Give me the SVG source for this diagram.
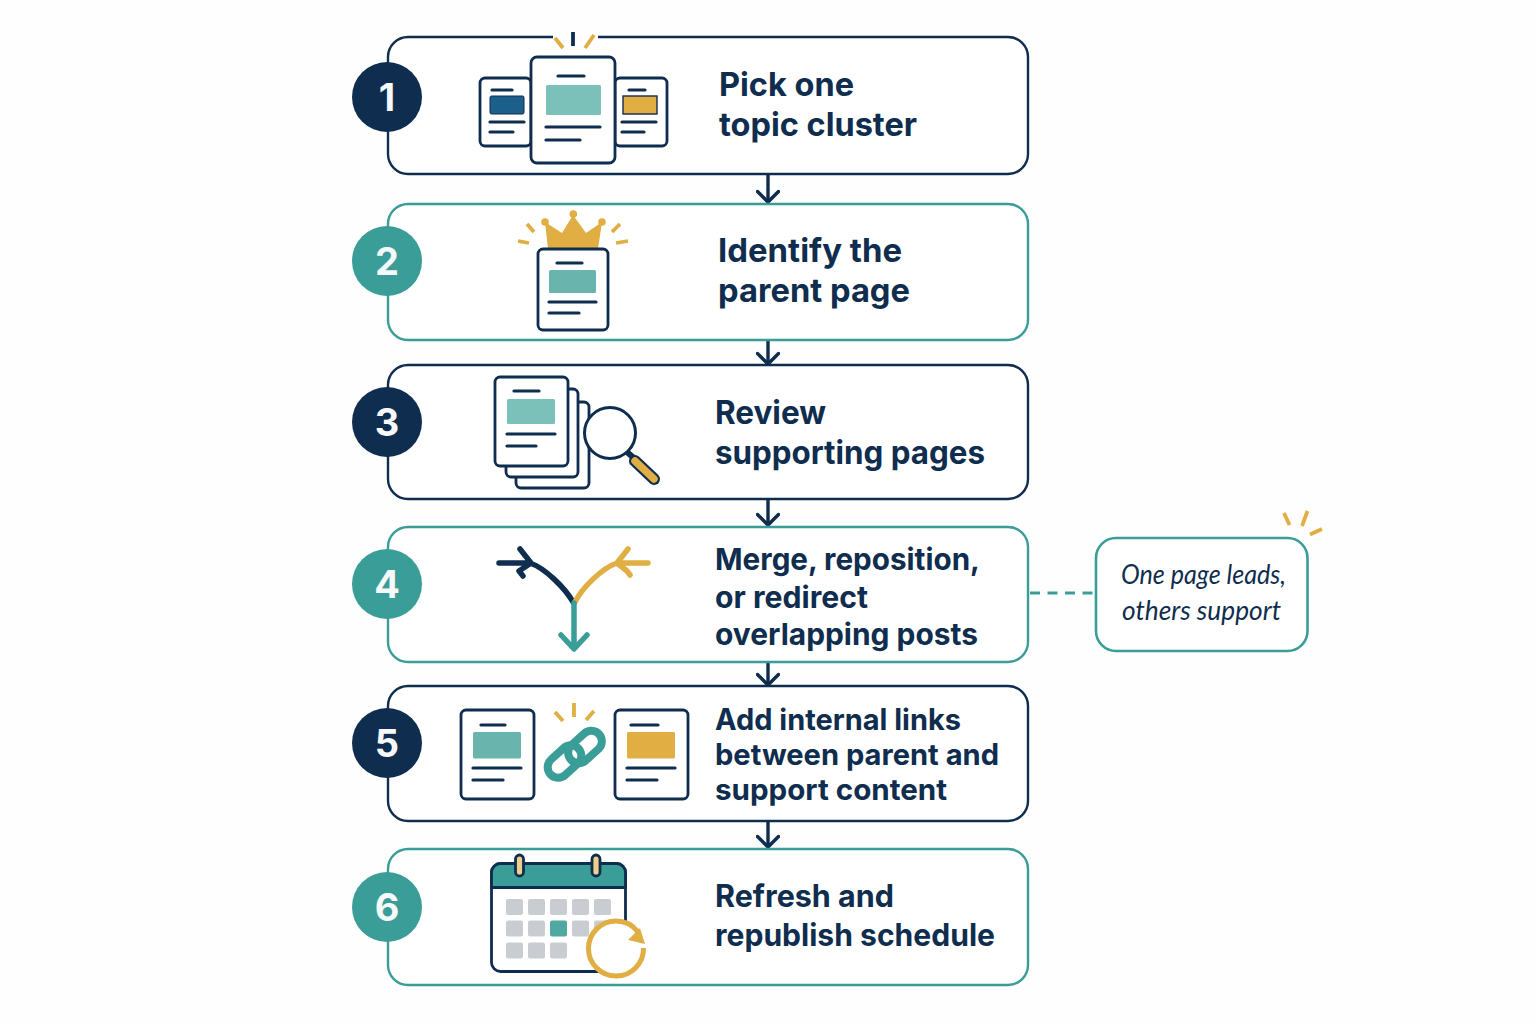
<svg xmlns="http://www.w3.org/2000/svg" width="1536" height="1024" viewBox="0 0 1536 1024">
<style>
.box{fill:#fff;stroke-width:2.4}
.nv{stroke:#0f2d4e}.tl{stroke:#3a9d98}
.num{fill:#f6f8f9;font:700 38px Inter,"Liberation Sans",sans-serif;text-anchor:middle}
.c-n{fill:#0f2d4e}.c-t{fill:#3a9d98}
.lab{fill:#0f2d4e;font:650 33px Inter,"Liberation Sans",sans-serif}
.s3{font-size:32px}.s4{font-size:30.5px}.s5{font-size:29.5px}.s6{font-size:31px}
.note{fill:#0f2d4e;font:italic 400 27px Lato,"Open Sans",sans-serif}
.card{fill:#fff;stroke:#0f2d4e;stroke-width:2.8}
.ln{stroke:#0f2d4e;stroke-width:3.2;stroke-linecap:round;fill:none}
.spark{stroke:#e0ae42;stroke-width:3.8;stroke-linecap:butt;fill:none}
.gd{fill:#e0ae42}.tf{fill:#7cc0ba}.tf2{fill:#69b5ae}.sq{fill:#c9cdd1}
</style>
<defs>
<marker id="ah" markerUnits="userSpaceOnUse" markerWidth="28" markerHeight="24" refX="13" refY="12" orient="auto">
<path d="M2.500 1.500 L13 12 L2.500 22.500" fill="none" stroke="#0f2d4e" stroke-width="3.500" stroke-linecap="round" stroke-linejoin="round"/>
</marker>
</defs>
<rect width="1536" height="1024" fill="#fefefe"/>
<g id="connectors" fill="none">
<g stroke="#0f2d4e" stroke-width="3.400">
<line x1="768" y1="175" x2="768" y2="202" marker-end="url(#ah)"/>
<line x1="768" y1="341" x2="768" y2="364" marker-end="url(#ah)"/>
<line x1="768" y1="500" x2="768" y2="525" marker-end="url(#ah)"/>
<line x1="768" y1="663" x2="768" y2="685" marker-end="url(#ah)"/>
<line x1="768" y1="822" x2="768" y2="847" marker-end="url(#ah)"/>
</g>
<line x1="1030" y1="593" x2="1096" y2="593" stroke="#3a9d98" stroke-width="3" stroke-dasharray="10 7.500"/>
</g>
<g id="step1">
<rect class="box nv" x="388" y="37" width="640" height="137" rx="20"/>
<rect x="553" y="33" width="45" height="8" fill="#fefefe"/>
<circle class="c-n" cx="387" cy="97" r="35"/><text class="num" x="387" y="111">1</text>
<rect class="card" x="480" y="78" width="51" height="68" rx="5"/>
<rect class="card" x="615" y="78" width="52" height="68" rx="5"/>
<rect class="card" x="531" y="57" width="84" height="106" rx="6"/>
<path class="ln" d="M558 76H584M546 127H600M546 140H580M492 90H512M490 122H524M490 132H513M629 90H645M622 122H656M622 132H644"/>
<rect x="546" y="85" width="55" height="30" rx="1.500" class="tf"/>
<rect x="490" y="96" width="34" height="18" rx="1.500" fill="#1c5f8b" stroke="#0f2d4e" stroke-width="1"/>
<rect x="623" y="96" width="34" height="18" fill="#e0ae42" stroke="#0f2d4e" stroke-width="1.400"/>
<path d="M573 32V46" stroke="#0f2d4e" stroke-width="3.800" fill="none"/>
<path class="spark" d="M555 38L563 48M585 48L594 35"/>
<text class="lab" x="719" y="96" textLength="135" lengthAdjust="spacingAndGlyphs">Pick one</text>
<text class="lab" x="719" y="136" textLength="198" lengthAdjust="spacingAndGlyphs">topic cluster</text>
</g>
<g id="step2">
<rect class="box tl" x="388" y="204" width="640" height="136" rx="20"/>
<circle class="c-t" cx="387" cy="261" r="35"/><text class="num" x="387" y="275">2</text>
<path class="gd" d="M548 249L545 222L562 233L573 215L586 233L602 222L598 249Z"/>
<circle class="gd" cx="545" cy="222" r="3.800"/><circle class="gd" cx="573.300" cy="214" r="3.800"/><circle class="gd" cx="602" cy="222" r="3.800"/>
<path class="spark" d="M527 224L534 232M518 241L529 243M612 232L620 224M616 243L628 241"/>
<rect class="card" x="538" y="249" width="70" height="81" rx="5"/>
<path class="ln" d="M557 263H582M549 302H596M549 313H579"/>
<rect x="549" y="270" width="47" height="23" rx="1.500" class="tf2"/>
<text class="lab" x="718" y="262" textLength="184" lengthAdjust="spacingAndGlyphs">Identify the</text>
<text class="lab" x="718" y="302" textLength="192" lengthAdjust="spacingAndGlyphs">parent page</text>
</g>
<g id="step3">
<rect class="box nv" x="388" y="365" width="640" height="134" rx="20"/>
<circle class="c-n" cx="387" cy="422" r="35"/><text class="num" x="387" y="436">3</text>
<rect class="card" x="516" y="402" width="73" height="86" rx="5"/>
<rect class="card" x="506" y="389" width="72" height="88" rx="5"/>
<rect class="card" x="495" y="377" width="73" height="89" rx="5"/>
<path class="ln" d="M514 391H539M507 434H555M507 446H536"/>
<rect x="507" y="399" width="48" height="25" rx="1.500" class="tf"/>
<path d="M627 452L635 459" stroke="#0f2d4e" stroke-width="6" fill="none"/>
<path d="M635 461L654 479" stroke="#0f2d4e" stroke-width="12" stroke-linecap="round" fill="none"/>
<path d="M635 461L654 479" stroke="#e0ae42" stroke-width="7.500" stroke-linecap="round" fill="none"/>
<circle cx="610" cy="433" r="25.500" fill="#fff" stroke="#0f2d4e" stroke-width="3"/>
<text class="lab s3" x="715" y="424" textLength="111" lengthAdjust="spacingAndGlyphs">Review</text>
<text class="lab s3" x="715" y="464" textLength="270" lengthAdjust="spacingAndGlyphs">supporting pages</text>
</g>
<g id="step4">
<rect class="box tl" x="388" y="527" width="640" height="135" rx="20"/>
<circle class="c-t" cx="387" cy="584" r="35"/><text class="num" x="387" y="598">4</text>
<g fill="none" stroke-linecap="round" stroke-linejoin="round" stroke-width="5.500">
<path stroke="#0f2d4e" d="M499 563H530C545 568 565 588 573 602M520 549L531 563L519 571L523 576"/>
<path stroke="#e0ae42" d="M648 563H617C602 568 582 588 575 602M628 549L617 563L627 571L630 575"/>
<path stroke="#3a9d98" d="M574 603V648M561 635L574 649L587 635"/>
</g>
<text class="lab s4" x="715" y="570" textLength="265" lengthAdjust="spacingAndGlyphs">Merge, reposition,</text>
<text class="lab s4" x="715" y="608" textLength="153" lengthAdjust="spacingAndGlyphs">or redirect</text>
<text class="lab s4" x="715" y="645" textLength="263" lengthAdjust="spacingAndGlyphs">overlapping posts</text>
</g>
<g id="step5">
<rect class="box nv" x="388" y="686" width="640" height="135" rx="20"/>
<circle class="c-n" cx="387" cy="743" r="35"/><text class="num" x="387" y="757">5</text>
<rect class="card" x="461" y="710" width="73" height="89" rx="5"/>
<rect class="card" x="615" y="710" width="73" height="89" rx="5"/>
<path class="ln" d="M481 725H505M473 768H521M473 780H503M631 725H658M627 768H675M627 780H657"/>
<rect x="473" y="732" width="48" height="26.500" rx="1.500" class="tf2"/>
<rect x="627" y="732" width="48" height="26.500" rx="1.500" class="gd"/>
<path class="spark" d="M574 703V717M555 712L563 721M594 711L586 720"/>
<g fill="none" stroke="#3a9d98" stroke-width="8">
<rect x="-19" y="-10.500" width="38" height="21" rx="10.500" transform="translate(564.500 761.500) rotate(-42)"/>
<rect x="-19" y="-10.500" width="38" height="21" rx="10.500" transform="translate(585 747) rotate(-42)"/>
</g>
<text class="lab s5" x="715" y="730" textLength="246" lengthAdjust="spacingAndGlyphs">Add internal links</text>
<text class="lab s5" x="715" y="765" textLength="284" lengthAdjust="spacingAndGlyphs">between parent and</text>
<text class="lab s5" x="715" y="800" textLength="232" lengthAdjust="spacingAndGlyphs">support content</text>
</g>
<g id="step6">
<rect class="box tl" x="388" y="849" width="640" height="136" rx="20"/>
<circle class="c-t" cx="387" cy="907" r="35"/><text class="num" x="387" y="921">6</text>
<rect x="491.500" y="863.500" width="134" height="108" rx="9" fill="#fff" stroke="#0f2d4e" stroke-width="2.800"/>
<path d="M491.500 887.500V872.500A9 9 0 0 1 500.500 863.500H616.500A9 9 0 0 1 625.500 872.500V887.500Z" fill="#3a9d98" stroke="#0f2d4e" stroke-width="2.800"/>
<g fill="#ecd08c" stroke="#0f2d4e" stroke-width="2.800"><rect x="515.500" y="855" width="8" height="21" rx="4"/><rect x="592" y="855" width="8" height="21" rx="4"/></g>
<g class="sq">
<rect x="506" y="899" width="17" height="16" rx="2"/><rect x="528" y="899" width="17" height="16" rx="2"/><rect x="550" y="899" width="17" height="16" rx="2"/><rect x="572" y="899" width="17" height="16" rx="2"/><rect x="594" y="899" width="17" height="16" rx="2"/>
<rect x="506" y="920.500" width="17" height="16" rx="2"/><rect x="528" y="920.500" width="17" height="16" rx="2"/><rect x="550" y="920.500" width="17" height="16" rx="2" fill="#4fa8a2"/><rect x="572" y="920.500" width="17" height="16" rx="2"/><rect x="594" y="920.500" width="17" height="16" rx="2"/>
<rect x="506" y="942.500" width="17" height="16" rx="2"/><rect x="528" y="942.500" width="17" height="16" rx="2"/><rect x="550" y="942.500" width="17" height="16" rx="2"/>
</g>
<circle cx="616" cy="948.500" r="27.500" fill="#fff" stroke="none"/>
<path d="M638 932A27.500 27.500 0 0 0 616 921A27.500 27.500 0 1 0 643.500 948" fill="none" stroke="#e0ae42" stroke-width="5"/>
<path d="M640 928L645 944L628 940Z" class="gd"/>
<text class="lab s6" x="715" y="907" textLength="179" lengthAdjust="spacingAndGlyphs">Refresh and</text>
<text class="lab s6" x="715" y="946" textLength="280" lengthAdjust="spacingAndGlyphs">republish schedule</text>
</g>
<g id="note">
<rect x="1096" y="538" width="211.500" height="113" rx="20" fill="#fff" stroke="#3a9d98" stroke-width="2.600"/>
<path class="spark" d="M1284 513L1289.500 525M1307.500 511L1302 526M1322 529L1310 534.500"/>
<text class="note" x="1121" y="584" textLength="165" lengthAdjust="spacingAndGlyphs">One page leads,</text>
<text class="note" x="1122" y="620" textLength="159" lengthAdjust="spacingAndGlyphs">others support</text>
</g>
</svg>
